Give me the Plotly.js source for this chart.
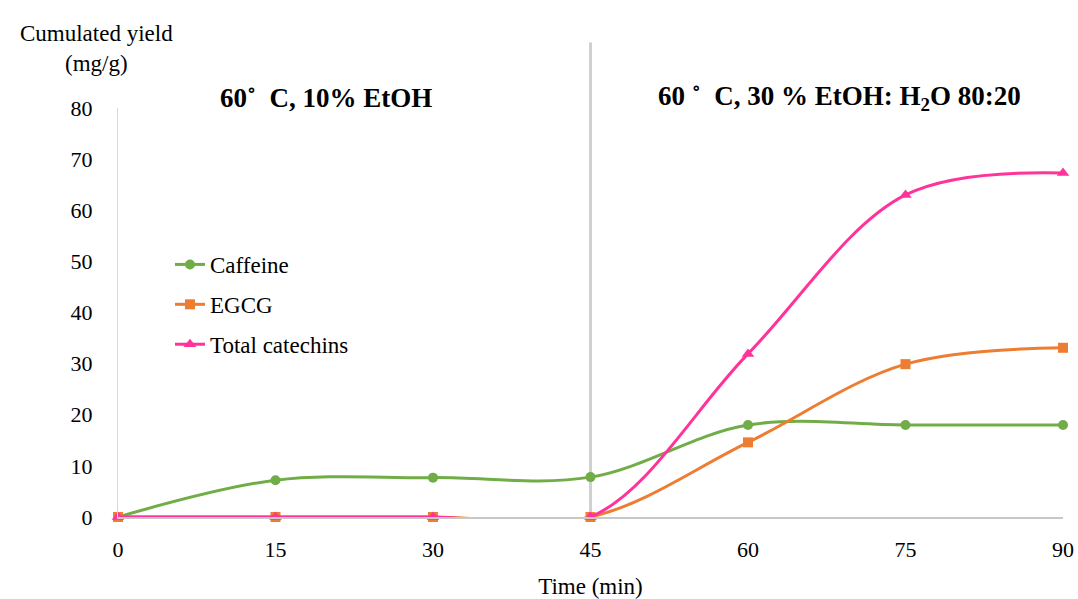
<!DOCTYPE html>
<html>
<head>
<meta charset="utf-8">
<script src="https://cdn.plot.ly/plotly-3.0.1.min.js"></script>
<style>html,body{margin:0;padding:0;background:#fff;}#chart{width:1078px;height:599px;}</style>
</head>
<body>
<div id="chart"></div>
<script>
const time = [0, 15, 30, 45, 60, 75, 90];
const caffeine = [0, 7.2, 7.7, 7.8, 18, 18, 18];
const egcg = [0, 0, 0, 0, 14.6, 29.9, 33.1];
const totalCatechins = [0, 0, 0, 0, 31.9, 63, 67.3];
const seriesNames = ["Caffeine", "EGCG", "Total catechins"];
const xTicks = [0, 15, 30, 45, 60, 75, 90];
const yTicks = [0, 10, 20, 30, 40, 50, 60, 70, 80];

const FONT = "Liberation Serif, Times New Roman, serif";

const traces = [
  {x: time, y: caffeine, name: seriesNames[0], legendgroup: "a", type: "scatter", mode: "lines+markers", cliponaxis: false,
   line: {color: "#70AD47", width: 3, shape: "spline"}, marker: {symbol: "circle", size: 10, color: "#70AD47"}},
  {x: time, y: egcg, name: seriesNames[1], legendgroup: "b", type: "scatter", mode: "lines+markers", cliponaxis: false,
   line: {color: "#ED7D31", width: 3, shape: "spline"}, marker: {symbol: "square", size: 10, color: "#ED7D31"}},
  {x: time, y: totalCatechins, name: seriesNames[2], legendgroup: "c", type: "scatter", mode: "lines+markers", cliponaxis: false,
   line: {color: "#FF3399", width: 3, shape: "spline"}, marker: {symbol: "triangle-up", size: 11, color: "#FF3399"}}
];

const layout = {
  width: 1078, height: 599,
  margin: {l: 118, r: 15, t: 108, b: 82},
  paper_bgcolor: "#fff", plot_bgcolor: "#fff",
  font: {family: FONT, size: 22, color: "#000"},
  showlegend: true,
  legend: {x: 0.055, y: 0.67, xanchor: "left", yanchor: "top", font: {family: FONT, size: 23, color: "#000"},
           bgcolor: "rgba(0,0,0,0)", traceorder: "grouped", tracegroupgap: 7, itemwidth: 30},
  xaxis: {range: [0, 90], tickvals: xTicks, ticktext: xTicks.map(String), showgrid: false, zeroline: false,
          showline: true, linecolor: "#c8c8c8", linewidth: 1.5, ticks: "", ticklabelstandoff: 12,
          tickfont: {family: FONT, size: 22},
          title: {text: "Time (min)", font: {family: FONT, size: 23}, standoff: 17}},
  yaxis: {range: [0, 80], tickvals: yTicks, ticktext: yTicks.map(String), showgrid: false, zeroline: false,
          showline: true, linecolor: "#d9d9d9", linewidth: 1, ticks: "", ticklabelstandoff: 20,
          tickfont: {family: FONT, size: 22}},
  shapes: [
    {type: "line", xref: "x", yref: "paper", x0: 45, x1: 45, y0: 0, y1: 1.16,
     line: {color: "#d0d0d0", width: 3}, layer: "below"}
  ],
  annotations: [
    {xref: "paper", yref: "paper", x: -0.023, y: 1.146, xanchor: "center", yanchor: "middle", showarrow: false,
     text: "Cumulated yield<br>(mg/g)", align: "center", font: {family: FONT, size: 23}},
    {xref: "x", yref: "paper", x: 19.8, y: 1.025, xanchor: "center", yanchor: "middle", showarrow: false,
     text: "<b>60˚  C, 10% EtOH</b>", font: {family: FONT, size: 27}},
    {xref: "x", yref: "paper", x: 68.7, y: 1.025, xanchor: "center", yanchor: "middle", showarrow: false,
     text: "<b>60 ˚  C, 30 % EtOH: H<sub>2</sub>O 80:20</b>", font: {family: FONT, size: 27}}
  ]
};

Plotly.newPlot("chart", traces, layout, {displayModeBar: false, staticPlot: true});
</script>
</body>
</html>
